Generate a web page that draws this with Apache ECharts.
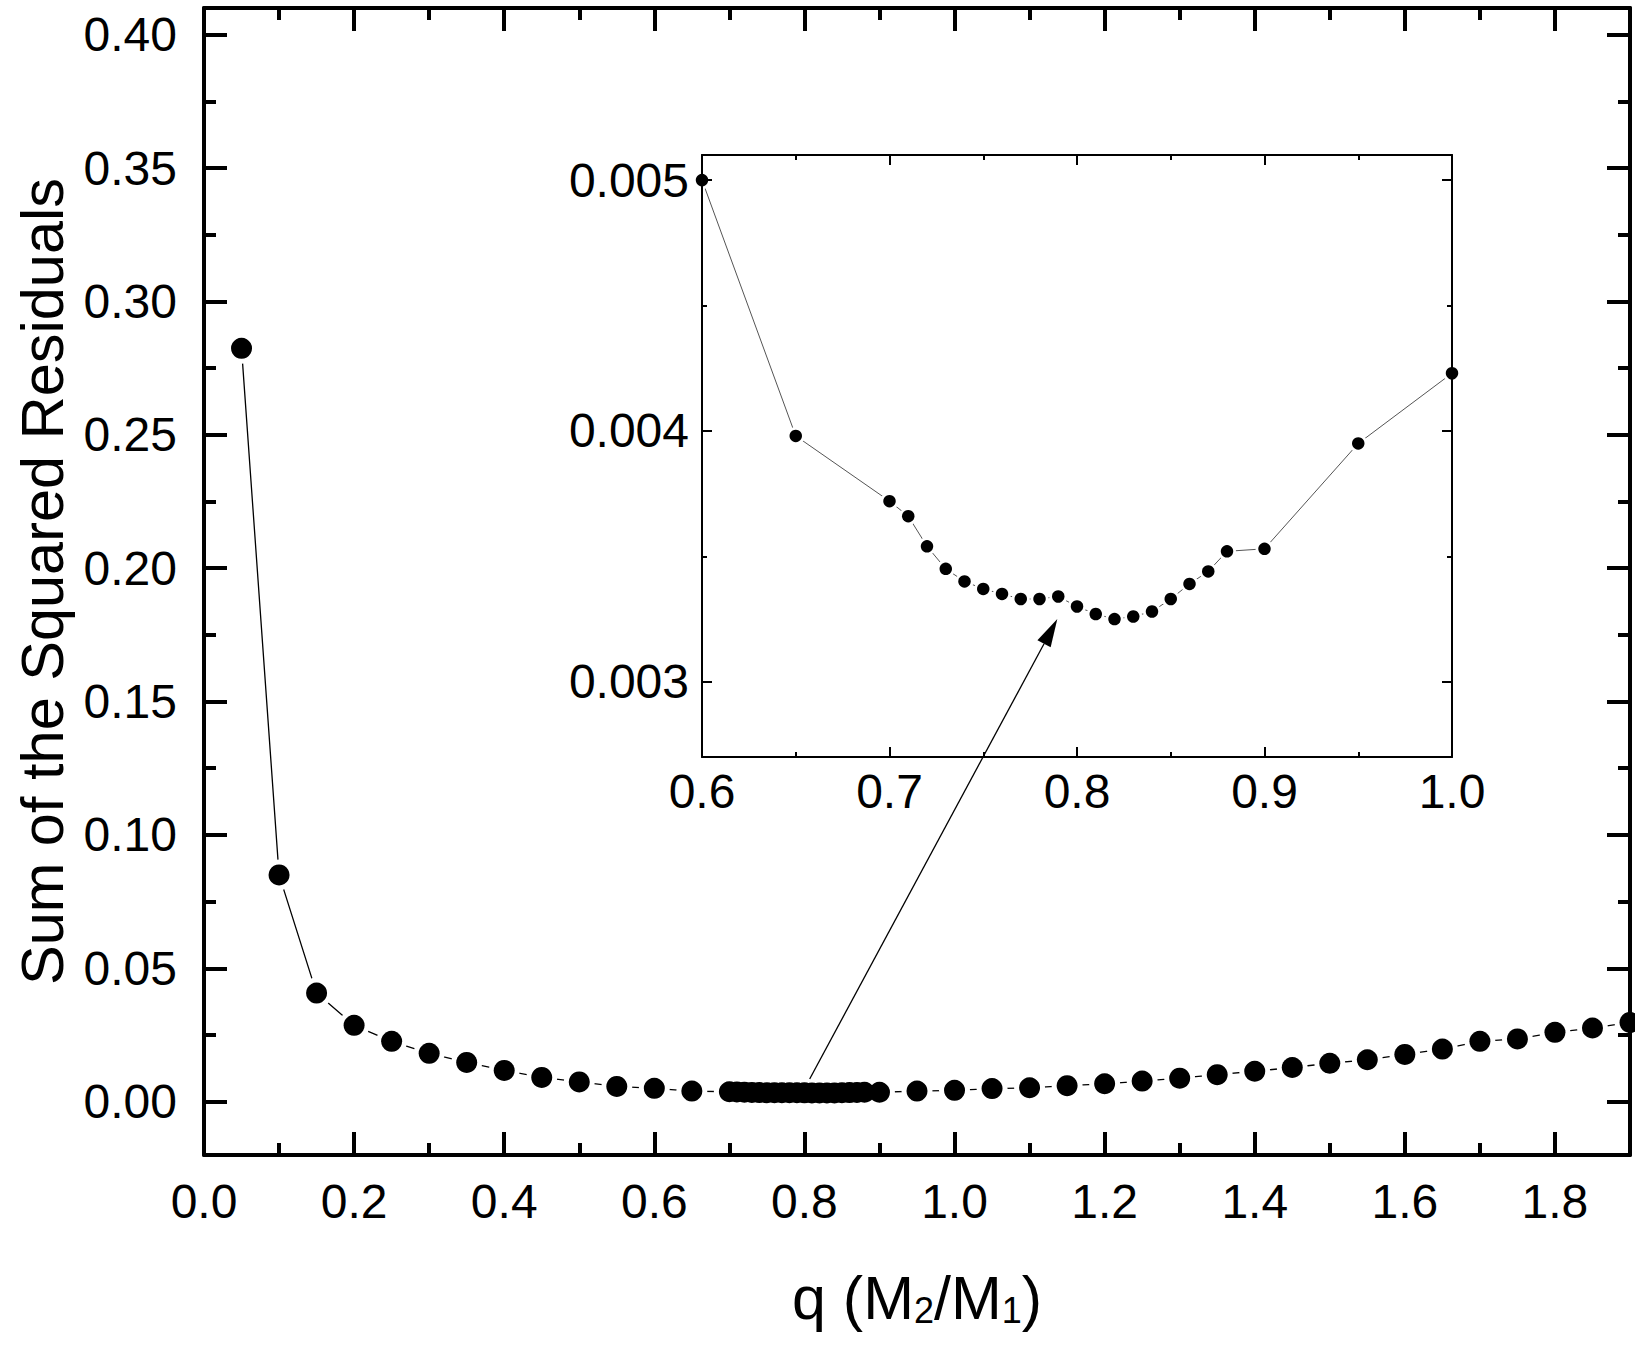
<!DOCTYPE html>
<html>
<head>
<meta charset="utf-8">
<title>Sum of the Squared Residuals vs q</title>
<script src="https://cdn.jsdelivr.net/npm/echarts@6/dist/echarts.min.js"></script>
<style>
  html, body { margin: 0; padding: 0; background: #fff; }
  #chart { width: 1635px; height: 1347px; }
</style>
</head>
<body>
<div id="chart"></div>
<script>
// q grid of the light-curve fits and the resulting sum of squared residuals
var qValues = [
  0.05, 0.10, 0.15, 0.20, 0.25, 0.30, 0.35, 0.40, 0.45, 0.50, 0.55, 0.60, 0.65,
  0.70, 0.71, 0.72, 0.73, 0.74, 0.75, 0.76, 0.77, 0.78, 0.79, 0.80, 0.81, 0.82,
  0.83, 0.84, 0.85, 0.86, 0.87, 0.88, 0.90, 0.95, 1.00,
  1.05, 1.10, 1.15, 1.20, 1.25, 1.30, 1.35, 1.40, 1.45, 1.50, 1.55, 1.60, 1.65,
  1.70, 1.75, 1.80, 1.85, 1.90
]
var ssrValues = [
  0.2824, 0.0850, 0.0407, 0.0286, 0.0226, 0.0181, 0.0147, 0.0117, 0.0091, 0.0074, 0.0057, 0.00500, 0.00398,
  0.00372, 0.00366, 0.00354, 0.00345, 0.00340, 0.00337, 0.00335, 0.00333, 0.00333, 0.00334, 0.00330, 0.00327, 0.00325,
  0.00326, 0.00328, 0.00333, 0.00339, 0.00344, 0.00352, 0.00353, 0.00395, 0.00423,
  0.0049, 0.0052, 0.0060, 0.0067, 0.0077, 0.0088, 0.0101, 0.0114, 0.0128, 0.0144, 0.0157, 0.0177, 0.0197,
  0.0226, 0.0235, 0.0260, 0.0276, 0.0297
]

// zoomed window shown in the inset
var insetQ = [0.6, 1.0]
var insetSsr = [0.0027, 0.0051]

// arrow: from the cluster on the main plot to the minimum in the inset
var arrowFrom = [0.807, 0.0085]
var arrowTo = [0.7895, 0.00325]

var FONT = '"Liberation Sans", Arial, sans-serif'

var mainData = qValues.map(function(q, i) { return [q, ssrValues[i]] })
var insetData = mainData.filter(function(d) {
  return d[0] >= insetQ[0] - 1e-9 && d[0] <= insetQ[1] + 1e-9
})

var chartDom = document.getElementById('chart')
var myChart = echarts.init(chartDom, null, { renderer: 'svg' })

function frameAxis(cfg) {
  var ax = {
    type: 'value',
    gridIndex: cfg.grid,
    position: cfg.position,
    min: cfg.min,
    max: cfg.max,
    z: 10,
    axisLine: { show: true, onZero: false, lineStyle: { color: '#000', width: cfg.lw } },
    axisTick: { show: true, inside: true, length: cfg.major, lineStyle: { color: '#000', width: cfg.lw } },
    minorTick: { show: true, splitNumber: 2, length: cfg.minor, lineStyle: { color: '#000', width: cfg.lw } },
    splitLine: { show: false },
    minorSplitLine: { show: false },
    axisLabel: { show: false }
  }
  if (cfg.interval) ax.interval = cfg.interval
  if (cfg.splitNumber) ax.splitNumber = cfg.splitNumber
  if (cfg.label) {
    ax.axisLabel = {
      show: true,
      color: '#000',
      fontFamily: FONT,
      fontSize: 48,
      margin: cfg.label.margin,
      showMinLabel: cfg.label.showMin,
      showMaxLabel: !!cfg.label.showMax,
      formatter: function(v) { return v.toFixed(cfg.label.digits) }
    }
  }
  return ax
}

var xMain = frameAxis({ grid: 0, position: 'bottom', min: 0, max: 1.9, interval: 0.2, lw: 4, major: 23, minor: 12,
  label: { margin: 22, digits: 1, showMin: true } })
xMain.name = 'q (M{s|2}/M{s|1})'
xMain.nameLocation = 'middle'
xMain.nameGap = 112
xMain.nameTextStyle = {
  color: '#000', fontFamily: FONT, fontSize: 61, lineHeight: 61,
  rich: { s: { color: '#000', fontFamily: FONT, fontSize: 36, lineHeight: 25, verticalAlign: 'bottom' } }
}

var yMain = frameAxis({ grid: 0, position: 'left', min: -0.02, max: 0.41, splitNumber: 8, lw: 4, major: 23, minor: 12,
  label: { margin: 27, digits: 2, showMin: false } })
yMain.name = 'Sum of the Squared Residuals'
yMain.nameLocation = 'middle'
yMain.nameRotate = 90
yMain.nameGap = 131
yMain.nameTextStyle = { color: '#000', fontFamily: FONT, fontSize: 59.5, lineHeight: 60 }

var option = {
  backgroundColor: '#fff',
  animation: false,
  grid: [
    { left: 204, top: 8, width: 1426, height: 1147, outerBoundsMode: 'none' },
    { left: 702, top: 155, width: 750, height: 602, outerBoundsMode: 'none' }
  ],
  xAxis: [
    xMain,
    frameAxis({ grid: 0, position: 'top', min: 0, max: 1.9, interval: 0.2, lw: 4, major: 23, minor: 12 }),
    frameAxis({ grid: 1, position: 'bottom', min: insetQ[0], max: insetQ[1], interval: 0.1, lw: 2, major: 10, minor: 5,
      label: { margin: 10, digits: 1, showMin: true, showMax: true } }),
    frameAxis({ grid: 1, position: 'top', min: insetQ[0], max: insetQ[1], interval: 0.1, lw: 2, major: 10, minor: 5 })
  ],
  yAxis: [
    yMain,
    frameAxis({ grid: 0, position: 'right', min: -0.02, max: 0.41, splitNumber: 8, lw: 4, major: 23, minor: 12 }),
    frameAxis({ grid: 1, position: 'left', min: insetSsr[0], max: insetSsr[1], splitNumber: 3, lw: 2, major: 10, minor: 5,
      label: { margin: 13, digits: 3, showMin: false } }),
    frameAxis({ grid: 1, position: 'right', min: insetSsr[0], max: insetSsr[1], splitNumber: 3, lw: 2, major: 10, minor: 5 })
  ],
  series: [
    // main panel: line, white gaps round the symbols, symbols
    { type: 'line', xAxisIndex: 0, yAxisIndex: 0, data: mainData, showSymbol: false, z: 2, silent: true,
      lineStyle: { color: '#000', width: 1.3 } },
    { type: 'scatter', xAxisIndex: 0, yAxisIndex: 0, data: mainData, symbolSize: 31, z: 3, silent: true,
      itemStyle: { color: '#fff', opacity: 1 } },
    { type: 'scatter', xAxisIndex: 0, yAxisIndex: 0, data: mainData, symbolSize: 21, z: 4, silent: true,
      itemStyle: { color: '#000', opacity: 1 } },
    // inset
    { type: 'line', xAxisIndex: 2, yAxisIndex: 2, data: insetData, showSymbol: false, z: 2, silent: true,
      lineStyle: { color: '#555', width: 1 } },
    { type: 'scatter', xAxisIndex: 2, yAxisIndex: 2, data: insetData, symbolSize: 18, z: 3, silent: true,
      itemStyle: { color: '#fff', opacity: 1 } },
    { type: 'scatter', xAxisIndex: 2, yAxisIndex: 2, data: insetData, symbolSize: 12.5, z: 4, silent: true,
      itemStyle: { color: '#000', opacity: 1 } }
  ]
}

myChart.setOption(option)

// arrow between the two coordinate systems
var a = myChart.convertToPixel({ xAxisIndex: 0, yAxisIndex: 0 }, arrowFrom)
var b = myChart.convertToPixel({ xAxisIndex: 2, yAxisIndex: 2 }, arrowTo)
var dx = b[0] - a[0]
var dy = b[1] - a[1]
var len = Math.sqrt(dx * dx + dy * dy)
var ux = dx / len
var uy = dy / len
var headLen = 28
var headHalf = 7.5
var bx = b[0] - ux * headLen
var by = b[1] - uy * headLen

myChart.setOption({
  graphic: [
    { type: 'line', z: 100, silent: true,
      shape: { x1: a[0], y1: a[1], x2: bx, y2: by },
      style: { stroke: '#000', lineWidth: 1.3 } },
    { type: 'polygon', z: 100, silent: true,
      shape: { points: [[b[0], b[1]], [bx - uy * headHalf, by + ux * headHalf], [bx + uy * headHalf, by - ux * headHalf]] },
      style: { fill: '#000' } }
  ]
})
</script>
</body>
</html>
